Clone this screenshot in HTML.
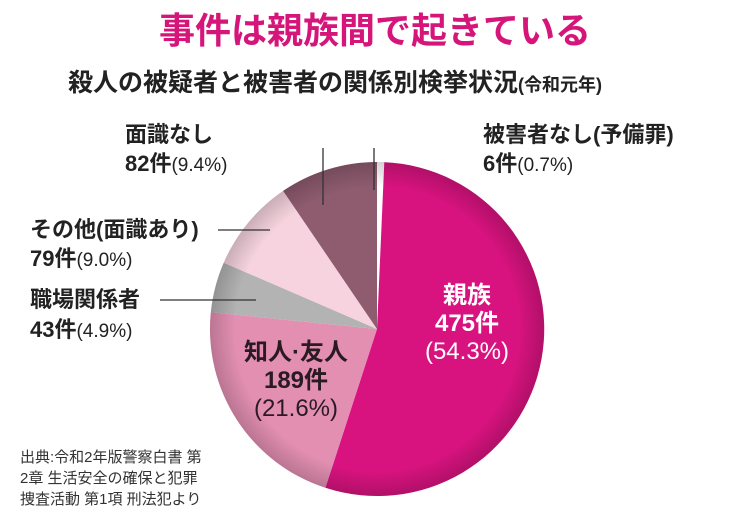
<!DOCTYPE html>
<html><head><meta charset="utf-8"><style>
body{margin:0;background:#fff;}
svg text{font-family:"Liberation Sans","Noto Sans CJK JP",sans-serif;}
.b{font-weight:bold;}
.n{font-weight:normal;}
</style></head><body>
<svg width="750" height="521" viewBox="0 0 750 521" xmlns="http://www.w3.org/2000/svg">
<defs>
<radialGradient id="sh" cx="377" cy="329" r="167" gradientUnits="userSpaceOnUse">
<stop offset="0.85" stop-color="#000" stop-opacity="0"/>
<stop offset="1" stop-color="#000" stop-opacity="0.18"/>
</radialGradient>
</defs>
<text class="b" x="375" y="43" font-size="36" fill="#d6157a" text-anchor="middle">事件は親族間で起きている</text>
<text class="b" x="335" y="91" font-size="25" fill="#222" text-anchor="middle">殺人の被疑者と被害者の関係別検挙状況<tspan font-size="18">(令和元年)</tspan></text>

<path d="M377,329 L377,162 A167,167 0 0 1 384.3,162.2 Z" fill="#ffffff"/>
<path d="M377,329 L384.3,162.2 A167,167 0 1 1 325.4,487.8 Z" fill="#d8137f"/>
<path d="M377,329 L325.4,487.8 A167,167 0 0 1 210.8,312.2 Z" fill="#e38fb2"/>
<path d="M377,329 L210.8,312.2 A167,167 0 0 1 223.7,262.7 Z" fill="#b3b3b3"/>
<path d="M377,329 L223.7,262.7 A167,167 0 0 1 283.1,190.9 Z" fill="#f6d3de"/>
<path d="M377,329 L283.1,190.9 A167,167 0 0 1 377,162 Z" fill="#8e5b6f"/>
<circle cx="377" cy="329" r="167" fill="url(#sh)"/>

<g stroke="#333" stroke-width="1.3">
<line x1="323" y1="148" x2="323" y2="205"/>
<line x1="374" y1="148" x2="374" y2="190"/>
<line x1="218" y1="230" x2="270" y2="230"/>
<line x1="160" y1="300" x2="256" y2="300"/>
</g>

<g font-size="22" fill="#222" class="b">
<text x="125" y="142">面識なし</text>
<text x="125" y="171">82件<tspan font-size="19" class="n">(9.4%)</tspan></text>
<text x="483" y="142">被害者なし(予備罪)</text>
<text x="483" y="171">6件<tspan font-size="19" class="n">(0.7%)</tspan></text>
<text x="30" y="237">その他(面識あり)</text>
<text x="30" y="266">79件<tspan font-size="19" class="n">(9.0%)</tspan></text>
<text x="30" y="307">職場関係者</text>
<text x="30" y="337">43件<tspan font-size="19" class="n">(4.9%)</tspan></text>
</g>

<g font-size="24" fill="#fff" text-anchor="middle" class="b">
<text x="467" y="303">親族</text>
<text x="467" y="331">475件</text>
<text x="467" y="359" class="n">(54.3%)</text>
</g>
<g font-size="24" fill="#2a1a22" text-anchor="middle" class="b">
<text x="296" y="360">知人·友人</text>
<text x="296" y="388">189件</text>
<text x="296" y="416" class="n">(21.6%)</text>
</g>

<g font-size="15" fill="#333" class="n">
<text x="20" y="462">出典:令和2年版警察白書 第</text>
<text x="20" y="483">2章 生活安全の確保と犯罪</text>
<text x="20" y="504">捜査活動 第1項 刑法犯より</text>
</g>
</svg>
</body></html>
